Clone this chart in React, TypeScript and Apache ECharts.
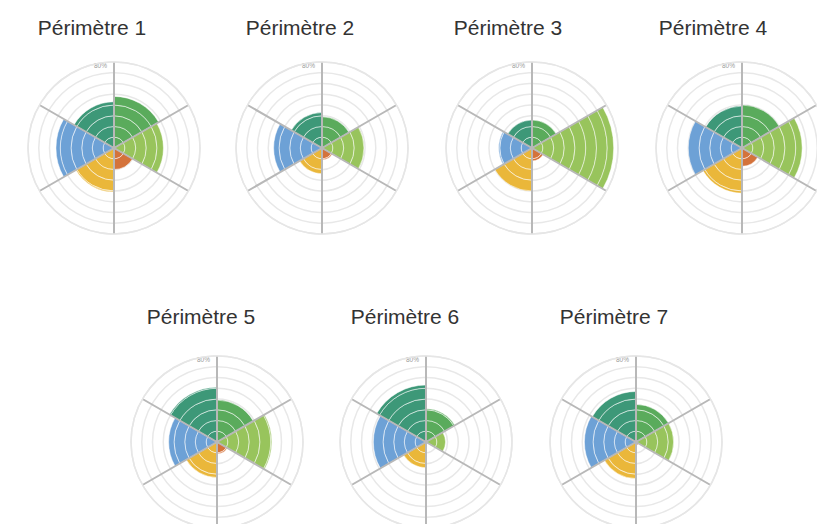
import React, { useEffect, useRef } from "react";
import * as echarts from "echarts";

// Sectors, clockwise from the top (12 o'clock)
const categories = ["Axe A", "Axe B", "Axe C", "Axe D", "Axe E", "Axe F"];
const sectorColors = ["#5aab5c", "#98c45c", "#d4733b", "#eab73a", "#6da1d6", "#3d9878"];

const titles = ["Périmètre 1", "Périmètre 2", "Périmètre 3", "Périmètre 4", "Périmètre 5", "Périmètre 6", "Périmètre 7"];

// values in %, order = categories
const p1 = [48, 46, 20, 41, 54, 43];
const p2 = [29, 39, 11, 24, 45, 33];
const p3 = [26, 76, 12, 40, 31, 26];
const p4 = [40, 56, 17, 42, 50, 39];
const p5 = [39, 51, 11, 33, 45, 51];
const p6 = [31, 18, 0, 24, 49, 53];
const p7 = [35, 35, 3, 34, 48, 47];
const perimeters = [p1, p2, p3, p4, p5, p6, p7];

const radiusMax = 80;
const radiusStep = 10;

// layout
const centers: [number, number][] = [
  [114, 148], [322, 148], [532, 148], [742, 148],
  [217, 442], [426, 442], [636, 442],
];
const titlePos: [number, number][] = [
  [92, 27], [300, 27], [508, 27], [713, 27],
  [201, 316], [405, 316], [614, 316],
];
const R = 86;

export default function App() {
  const ref = useRef<HTMLDivElement>(null);
  useEffect(() => {
    if (!ref.current) return;
    const chart = echarts.init(ref.current, undefined, { renderer: "svg" });
    const polar: any[] = [];
    const angleAxis: any[] = [];
    const radiusAxis: any[] = [];
    const series: any[] = [];
    const graphic: any[] = [];
    perimeters.forEach((vals, p) => {
      polar.push({ center: centers[p], radius: R });
      angleAxis.push({
        polarIndex: p,
        type: "category",
        data: categories,
        startAngle: 90,
        clockwise: true,
        z: 5,
        axisLine: { show: true, lineStyle: { color: "#e6e6e6", width: 1.5 } },
        axisTick: { show: false },
        axisLabel: { show: false },
        splitLine: { show: true, lineStyle: { color: "#b8b8b8", width: 2 } },
      });
      radiusAxis.push({
        polarIndex: p,
        type: "value",
        min: 0,
        max: radiusMax,
        interval: radiusStep,
        z: 0,
        axisLine: { show: false },
        axisTick: { show: false },
        axisLabel: {
          show: true,
          fontSize: 6.5,
          color: "#9a9a9a",
          align: "right",
          verticalAlign: "top",
          margin: 7,
          formatter: (v: number) => (v === radiusMax ? v + "%" : ""),
        },
        splitLine: { show: true, lineStyle: { color: "#e8e8e8", width: 1.5 } },
      });
      const nSeg = radiusMax / radiusStep;
      for (let k = 0; k < nSeg; k++) {
        series.push({
          type: "bar",
          coordinateSystem: "polar",
          polarIndex: p,
          stack: "s" + p,
          barCategoryGap: "0%",
          silent: true,
          itemStyle: { borderColor: "rgba(255,255,255,0.5)", borderWidth: 1 },
          data: vals.map((v, i) => {
            const seg = Math.max(0, Math.min(radiusStep, v - k * radiusStep));
            return seg > 0
              ? { value: seg, itemStyle: { color: sectorColors[i] } }
              : "-";
          }),
        });
      }
      graphic.push({
        type: "text",
        x: titlePos[p][0],
        y: titlePos[p][1],
        style: {
          text: titles[p],
          textAlign: "center",
          textVerticalAlign: "middle",
          fontSize: 21,
          fontFamily: "Liberation Sans",
          fill: "#333333",
        },
      });
    });
    chart.setOption({
      animation: false,
      backgroundColor: "#ffffff",
      polar,
      angleAxis,
      radiusAxis,
      series,
      graphic,
    });
    return () => chart.dispose();
  }, []);
  return (
    <div
      ref={ref}
      style={{ position: "fixed", left: 0, top: 0, width: 817, height: 524 }}
    />
  );
}
